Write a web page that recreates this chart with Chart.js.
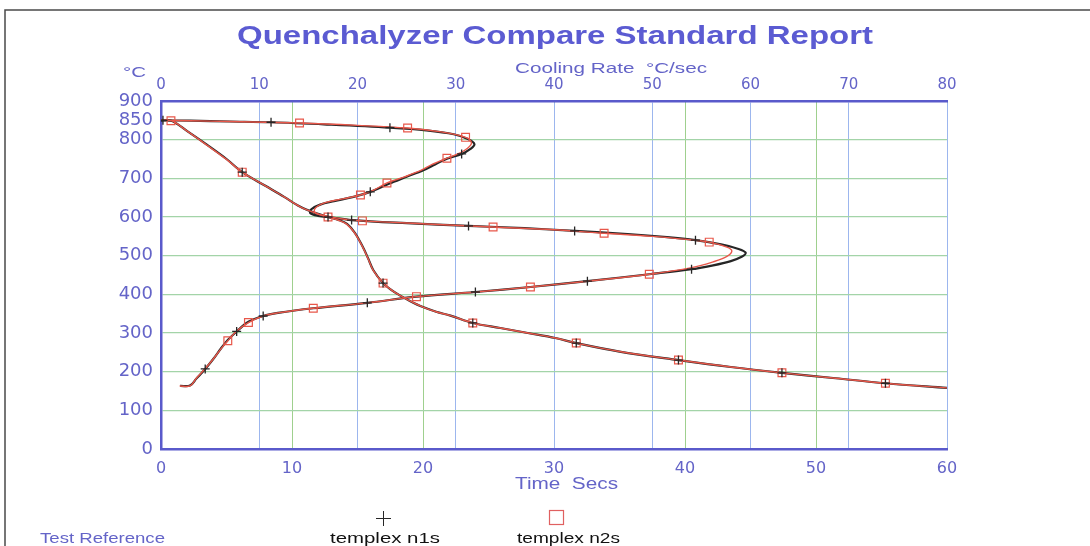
<!DOCTYPE html>
<html>
<head>
<meta charset="utf-8">
<title>Quenchalyzer Compare Standard Report</title>
<script src="https://cdn.jsdelivr.net/npm/chart.js@4.4.1/dist/chart.umd.min.js"></script>
<style>
    html, body { margin: 0; padding: 0; background: #ffffff; }
    canvas { display: block; }
</style>
</head>
<body>
<canvas id="chart" width="1090" height="546"></canvas>
<script>
// temperature (°C) against time (s)
const n1sTime = [
    [0.0, 850], [0.8, 849], [2.0, 822], [3.5, 787], [5.0, 750], [6.2, 716],
    [8.0, 680], [9.4, 652], [10.6, 627], [11.8, 610], [12.75, 600], [13.6, 592],
    [14.2, 582], [14.8, 559], [15.4, 523], [15.8, 494], [16.2, 463], [16.95, 429],
    [17.6, 411], [18.2, 398], [19.0, 383], [20.0, 367], [21.0, 355], [22.1, 345],
    [23.8, 326], [25.9, 313], [28.0, 300], [30.1, 287], [31.7, 274], [35.0, 252],
    [39.5, 230], [43.5, 212], [47.4, 197], [51.5, 183], [55.3, 170], [60.0, 158]
];
const n2sTime = [
    [0.0, 850], [0.8, 849], [2.0, 822], [3.5, 786], [5.0, 749], [6.2, 716],
    [8.0, 680], [9.4, 652], [10.6, 627], [11.8, 610], [12.75, 600], [13.6, 591],
    [14.2, 581], [14.8, 558], [15.4, 522], [15.8, 493], [16.2, 462], [16.95, 429],
    [17.6, 411], [18.2, 398], [19.0, 383], [20.0, 367], [21.0, 355], [22.1, 345],
    [23.8, 326], [25.9, 313], [28.0, 300], [30.1, 287], [31.7, 274], [35.0, 252],
    [39.5, 230], [43.5, 212], [47.4, 197], [51.5, 183], [55.3, 170], [60.0, 158]
];

// temperature (°C) against cooling rate (°C/s)
const n1sRate = [
    [0, 850], [3, 849], [7, 847], [11.2, 845], [17, 839], [23.3, 831], [27, 824],
    [29.8, 814], [31.3, 801], [31.9, 788], [31.5, 776], [30.6, 763], [29.1, 751],
    [27.9, 736], [26.7, 721], [25.0, 704], [23.2, 686], [21.3, 665], [19.6, 652],
    [17.6, 641], [16.2, 632], [15.3, 620], [15.2, 610], [16.0, 603], [17.3, 599],
    [19.4, 592], [25.0, 584], [31.3, 577], [37.0, 571], [42.1, 564], [47.5, 556],
    [51.5, 548], [54.4, 540], [57.0, 529], [58.7, 518], [59.5, 508], [59.1, 497],
    [58.0, 486], [56.2, 475], [54.0, 465], [49.7, 452], [43.4, 434], [37.6, 419],
    [32.0, 406], [26.0, 394], [21.0, 378], [15.5, 364], [11.9, 352], [10.4, 344],
    [8.9, 329], [7.7, 304], [6.8, 282], [6.1, 260], [5.3, 232], [4.5, 207],
    [3.6, 182], [2.95, 164], [1.95, 163]
];
const n2sRate = [
    [0, 850], [3, 849], [7, 847], [14.1, 843], [20, 837], [25.1, 830], [28.5, 820],
    [31.0, 806], [31.6, 792], [31.2, 778], [30.2, 763], [29.1, 752], [27.6, 736],
    [26.5, 721], [24.8, 704], [23.0, 688], [21.6, 669], [20.3, 657], [18.5, 647],
    [16.8, 638], [16.0, 629], [15.6, 618], [15.9, 608], [17.0, 602], [18.5, 595],
    [20.5, 590], [27.0, 582], [33.8, 574], [40.0, 567], [45.1, 558], [50.0, 550],
    [53.5, 542], [55.8, 535], [57.6, 522], [58.1, 512], [57.6, 498], [56.2, 484],
    [54.0, 469], [49.7, 452], [43.4, 434], [37.6, 419], [32.0, 406], [26.0, 394],
    [21.0, 378], [15.5, 364], [11.9, 352], [10.4, 344], [8.9, 327], [7.7, 305],
    [6.8, 280], [6.1, 259], [5.3, 232], [4.5, 208], [3.6, 183], [2.95, 163], [1.9, 163]
];

// marker positions (+ for n1s, squares for n2s)
const n1sTimeMarks = [
    [0.15, 850], [6.2, 716], [12.75, 600], [16.95, 429], [23.8, 326],
    [31.7, 274], [39.5, 230], [47.4, 197], [55.3, 170]
];
const n2sTimeMarks = [
    [0.76, 849], [6.2, 716], [12.75, 600], [16.95, 429], [23.8, 326],
    [31.7, 274], [39.5, 230], [47.4, 197], [55.3, 170]
];
const n1sRateMarks = [
    [11.2, 845], [23.3, 831], [30.6, 763], [21.3, 665], [19.4, 592], [31.3, 577],
    [42.1, 564], [54.4, 540], [54.0, 465], [43.4, 434], [32.0, 406], [21.0, 378],
    [10.4, 344], [7.7, 304], [4.5, 207]
];
const n2sRateMarks = [
    [14.1, 843], [25.1, 830], [31.0, 806], [29.1, 752], [23.0, 688], [20.3, 657],
    [20.5, 590], [33.8, 574], [45.1, 558], [55.8, 535], [49.7, 452], [37.6, 419],
    [26.0, 394], [15.5, 364], [8.9, 327], [6.8, 280]
];

// axis ticks
const tempTicks = [0, 100, 200, 300, 400, 500, 600, 700, 800, 850, 900];
const timeRange = [0, 60];
const rateRange = [0, 80];
const seriesNames = ['templex n1s', 'templex n2s'];

const toPoints = arr => arr.map(([x, y]) => ({ x, y }));

const AXIS_BLUE = '#5a5acb';
const LABEL_BLUE = '#6464c8';
const LINE_BLACK = '#262626';
const LINE_RED = '#e8574a';

// area of the plot in the scan
const AREA = { left: 161, top: 101, right: 947, bottom: 449 };

function curve(data, axis, color, width, order) {
    return {
        data: toPoints(data),
        xAxisID: axis,
        yAxisID: 'y',
        showLine: true,
        borderColor: color,
        borderWidth: width,
        pointRadius: 0,
        fill: false,
        tension: 0.35,
        order
    };
}

function marks(data, axis, style) {
    const cross = style === 'cross';
    return {
        data: toPoints(data),
        xAxisID: axis,
        yAxisID: 'y',
        showLine: false,
        pointStyle: style,
        pointRadius: cross ? 4.5 : 5.5,
        pointBorderWidth: cross ? 1.3 : 1.2,
        pointBorderColor: cross ? LINE_BLACK : LINE_RED,
        pointBackgroundColor: 'rgba(0,0,0,0)',
        order: cross ? 0 : 0.5
    };
}

// draws text squeezed/stretched to the width it has in the scan
function fitText(ctx, text, left, midY, width, font, color) {
    ctx.save();
    ctx.font = font;
    const w = ctx.measureText(text).width;
    ctx.translate(left, midY);
    ctx.scale(width / w, 1);
    ctx.fillStyle = color;
    ctx.textBaseline = 'middle';
    ctx.textAlign = 'left';
    ctx.fillText(text, 0, 0);
    ctx.restore();
}

const reportText = {
    id: 'reportText',
    beforeDraw(chart) {
        const ctx = chart.ctx;
        ctx.save();
        ctx.fillStyle = '#ffffff';
        ctx.fillRect(0, 0, chart.width, chart.height);
        // page frame from the scan
        ctx.strokeStyle = '#4a4a4a';
        ctx.lineWidth = 1.5;
        ctx.beginPath();
        ctx.moveTo(5, 546);
        ctx.lineTo(5, 10);
        ctx.lineTo(1090, 10);
        ctx.stroke();
        ctx.restore();
    },
    afterDraw(chart) {
        const ctx = chart.ctx;
        const sans = '"Liberation Sans", Arial, sans-serif';
        fitText(ctx, 'Quenchalyzer Compare Standard Report', 237, 37, 636, `bold 25px ${sans}`, '#5b5bd2');
        fitText(ctx, '°C', 123, 73, 23, `15px ${sans}`, LABEL_BLUE);
        fitText(ctx, 'Cooling Rate  °C/sec', 515, 69, 192, `15px ${sans}`, LABEL_BLUE);
        fitText(ctx, 'Time  Secs', 515, 485, 103, `16px ${sans}`, LABEL_BLUE);

        // legend
        fitText(ctx, 'Test Reference', 40, 539, 125, `15px ${sans}`, LABEL_BLUE);
        fitText(ctx, seriesNames[0], 330, 539, 110, `15px ${sans}`, '#111111');
        fitText(ctx, seriesNames[1], 517, 539, 103, `15px ${sans}`, '#111111');

        ctx.save();
        ctx.strokeStyle = LINE_BLACK;
        ctx.lineWidth = 1;
        ctx.beginPath();
        ctx.moveTo(376, 518.5);
        ctx.lineTo(391, 518.5);
        ctx.moveTo(383.5, 511);
        ctx.lineTo(383.5, 526);
        ctx.stroke();
        ctx.strokeStyle = '#e06060';
        ctx.lineWidth = 1.2;
        ctx.strokeRect(549.5, 510.5, 14, 14);
        ctx.restore();
    }
};

const tickFont = size => ({ family: '"DejaVu Sans", sans-serif', size });

new Chart(document.getElementById('chart'), {
    type: 'scatter',
    data: {
        datasets: [
            curve(n1sTime, 'x', LINE_BLACK, 2.2, 2),
            curve(n2sTime, 'x', LINE_RED, 1.4, 1),
            curve(n1sRate, 'x2', LINE_BLACK, 2.2, 2),
            curve(n2sRate, 'x2', LINE_RED, 1.4, 1),
            marks(n1sTimeMarks, 'x', 'cross'),
            marks(n2sTimeMarks, 'x', 'rect'),
            marks(n1sRateMarks, 'x2', 'cross'),
            marks(n2sRateMarks, 'x2', 'rect')
        ]
    },
    options: {
        responsive: false,
        animation: false,
        events: [],
        layout: {
            padding: { left: 0, top: 0, right: 1090 - AREA.right, bottom: 0 }
        },
        scales: {
            x: {
                type: 'linear',
                position: 'bottom',
                min: timeRange[0],
                max: timeRange[1],
                ticks: {
                    stepSize: 10,
                    autoSkip: false,
                    maxRotation: 0,
                    padding: 10,
                    color: LABEL_BLUE,
                    font: tickFont(16)
                },
                grid: { color: '#9fd08e', lineWidth: 1, drawTicks: false },
                border: { color: AXIS_BLUE, width: 2.5 },
                afterFit: scale => { scale.height = 546 - AREA.bottom; }
            },
            x2: {
                type: 'linear',
                position: 'top',
                min: rateRange[0],
                max: rateRange[1],
                ticks: {
                    stepSize: 10,
                    autoSkip: false,
                    maxRotation: 0,
                    padding: 7,
                    color: LABEL_BLUE,
                    font: tickFont(15)
                },
                grid: { color: '#9cb6ee', lineWidth: 1, drawTicks: false },
                border: { color: AXIS_BLUE, width: 2.5 },
                afterFit: scale => { scale.height = AREA.top; }
            },
            y: {
                type: 'linear',
                position: 'left',
                min: 0,
                max: 900,
                afterBuildTicks: scale => {
                    scale.ticks = tempTicks.map(value => ({ value }));
                },
                ticks: {
                    autoSkip: false,
                    padding: 8,
                    color: LABEL_BLUE,
                    font: tickFont(18)
                },
                grid: {
                    color: ctx => (ctx.tick && ctx.tick.value === 850) ? 'rgba(0,0,0,0)' : '#a3d4a8',
                    lineWidth: 1.3,
                    drawTicks: false
                },
                border: { color: AXIS_BLUE, width: 2.5 },
                afterFit: scale => { scale.width = AREA.left; }
            }
        },
        plugins: {
            legend: { display: false },
            tooltip: { enabled: false },
            title: { display: false }
        }
    },
    plugins: [reportText]
});
</script>
</body>
</html>
